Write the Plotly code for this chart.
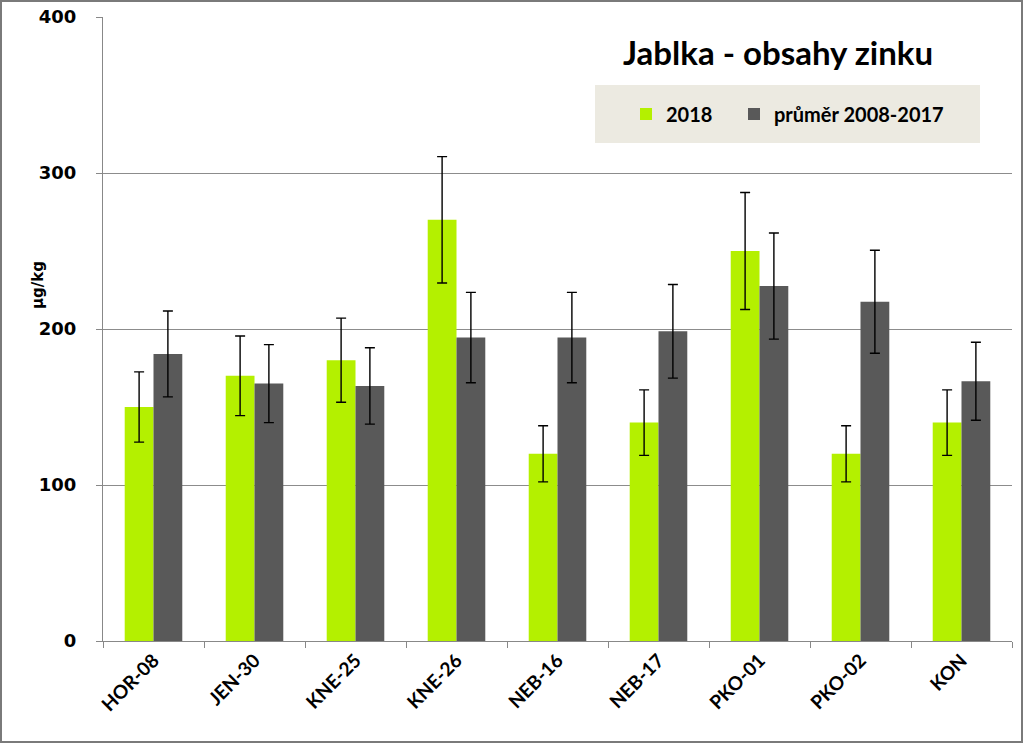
import plotly.graph_objects as go

categories = ["HOR-08", "JEN-30", "KNE-25", "KNE-26", "NEB-16", "NEB-17", "PKO-01", "PKO-02", "KON"]
values_2018 = [150, 170, 180, 270, 120, 140, 250, 120, 140]
err_2018 = [22.5, 25.5, 27, 40.5, 18, 21, 37.5, 18, 21]
values_avg = [184, 165, 163.5, 194.5, 194.5, 198.5, 227.5, 217.5, 166.5]
err_avg = [27.5, 25, 24.5, 29, 29, 30, 34, 33, 25]

series_names = ["2018", "průměr 2008-2017"]
y_ticks = [0, 100, 200, 300, 400]

GREEN = "#B4F000"
GRAY = "#595959"
cat_font = "Lato"

fig = go.Figure()
fig.add_trace(go.Bar(
    x=categories, y=values_2018, name=series_names[0], legend="legend",
    marker=dict(color=GREEN, line=dict(width=0)),
    error_y=dict(type="data", array=err_2018, visible=True, color="#000000", thickness=1.4, width=5),
))
fig.add_trace(go.Bar(
    x=categories, y=values_avg, name=series_names[1], legend="legend2",
    marker=dict(color=GRAY, line=dict(width=0)),
    error_y=dict(type="data", array=err_avg, visible=True, color="#000000", thickness=1.4, width=5),
))

L, R, T, B = 103, 11, 17, 102
W, H = 1023, 743
pw, ph = W - L - R, H - T - B

def px_x(p):
    return (p - L) / pw

def px_y(p):
    return (H - B - p) / ph

leg_font = dict(family=cat_font, size=20, color="#000000", weight="bold")

fig.update_layout(
    width=W, height=H,
    margin=dict(l=L, r=R, t=T, b=B, autoexpand=False),
    paper_bgcolor="white", plot_bgcolor="white",
    barmode="group", bargap=0.43, bargroupgap=0,
    showlegend=True,
    legend=dict(
        orientation="h", x=px_x(626), xanchor="left", y=px_y(114), yanchor="middle",
        bgcolor="rgba(0,0,0,0)", font=leg_font, itemwidth=30,
    ),
    legend2=dict(
        orientation="h", x=px_x(734), xanchor="left", y=px_y(114), yanchor="middle",
        bgcolor="rgba(0,0,0,0)", font=leg_font, itemwidth=30,
    ),
    xaxis=dict(
        type="category", showgrid=False, showline=True, linecolor="#888888", linewidth=1,
        ticks="outside", tickson="boundaries", ticklen=6, tickcolor="#888888",
        tickangle=-45, tickfont=dict(family=cat_font, size=19, color="#000000", weight="bold"),
        range=[-0.5, len(categories) - 0.5],
    ),
    yaxis=dict(
        range=[0, 400], tickvals=y_ticks, showgrid=True, gridcolor="#8c8c8c", gridwidth=1,
        showline=True, linecolor="#888888", linewidth=1, ticks="outside", ticklen=6,
        tickcolor="#888888", ticklabelstandoff=16,
        tickfont=dict(family="DejaVu Sans", size=18, color="#000000", weight="bold"),
        zeroline=False,
    ),
    shapes=[
        dict(type="rect", xref="paper", yref="paper",
             x0=px_x(595), x1=px_x(980), y0=px_y(143), y1=px_y(85),
             fillcolor="#ECEAE1", line=dict(width=0), layer="below"),
        dict(type="rect", xref="paper", yref="paper",
             x0=px_x(1), x1=px_x(1022), y0=px_y(742), y1=px_y(1),
             fillcolor="rgba(0,0,0,0)", line=dict(color="#7a7a7a", width=2)),
    ],
    annotations=[
        dict(text="<b>Jablka - obsahy zinku</b>", xref="paper", yref="paper",
             x=px_x(778), y=px_y(52), xanchor="center", yanchor="middle", showarrow=False,
             font=dict(family=cat_font, size=33, color="#000000")),
        dict(text="<b>μg/kg</b>", xref="paper", yref="paper",
             x=px_x(38), y=px_y(285), xanchor="center", yanchor="middle", showarrow=False,
             textangle=-90, font=dict(family="DejaVu Sans", size=15, color="#000000")),
    ],
)

fig.write_html("out.html", config={"displayModeBar": False},
               post_script="document.body.style.margin='0';document.body.style.padding='0';")
